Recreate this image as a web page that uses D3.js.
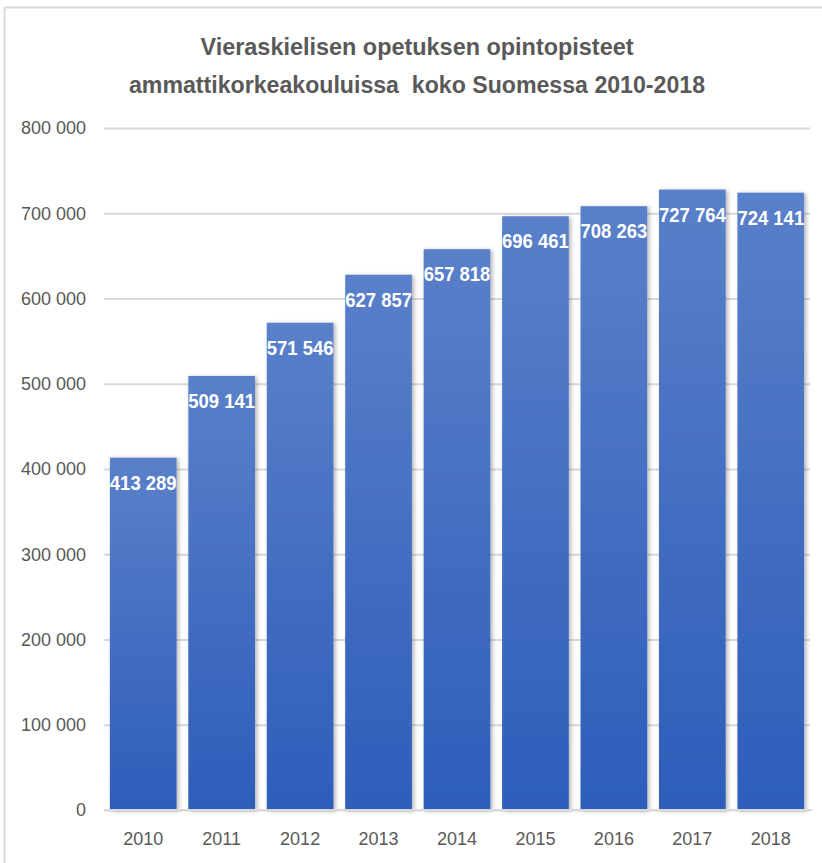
<!DOCTYPE html>
<html>
<head>
<meta charset="utf-8">
<script src="https://cdn.jsdelivr.net/npm/d3@7"></script>
<style>
body { margin: 0; background: #fff; }
svg { display: block; }
</style>
</head>
<body>
<div id="chart"></div>
<script>
// data
const years = ['2010', '2011', '2012', '2013', '2014', '2015', '2016', '2017', '2018']
const credits = [413289, 509141, 571546, 627857, 657818, 696461, 708263, 727764, 724141]
const yTicks = [0, 100000, 200000, 300000, 400000, 500000, 600000, 700000, 800000]
const titleLines = ['Vieraskielisen opetuksen opintopisteet', 'ammattikorkeakouluissa  koko Suomessa 2010-2018']

const width = 822, height = 863
const font = '"Liberation Sans", Arial, sans-serif'

const fmt = v => d3.format(',')(v).replace(/,/g, ' ')

let svg = d3.select('#chart').append('svg').attr('width', width).attr('height', height)

let defs = svg.append('defs')
let grad = defs.append('linearGradient').attr('id', 'barGrad')
    .attr('x1', 0).attr('y1', 0).attr('x2', 0).attr('y2', 1)
grad.append('stop').attr('offset', '0%').attr('stop-color', '#5a80c9')
grad.append('stop').attr('offset', '100%').attr('stop-color', '#2d5dba')

let shadow = defs.append('filter').attr('id', 'shadow')
    .attr('x', '-20%').attr('y', '-5%').attr('width', '140%').attr('height', '110%')
shadow.append('feDropShadow').attr('dx', 2).attr('dy', 1).attr('stdDeviation', 2)
    .attr('flood-color', '#000').attr('flood-opacity', 0.3)

// chart border (only top and left visible in the crop)
svg.append('path').attr('d', 'M4.5,' + height + 'V7.5H' + width)
    .attr('fill', 'none').attr('stroke', '#d9d9d9').attr('stroke-width', 2)

// title, squeezed to look like the narrow original font
const titleWidths = [433, 576]
svg.append('g').selectAll('text')
    .data(titleLines)
    .enter()
    .append('text')
    .attr('x', (d, i) => 417 - titleWidths[i] / 2)
    .attr('y', (d, i) => 55 + i * 38)
    .attr('textLength', (d, i) => titleWidths[i])
    .attr('lengthAdjust', 'spacingAndGlyphs')
    .style('font-family', font)
    .style('font-weight', 'bold')
    .style('font-size', '23px')
    .style('fill', '#595959')
    .style('white-space', 'pre')
    .text(d => d)

const x = d3.scaleBand().domain(years).range([104, 810]).paddingInner(0.15).paddingOuter(0.075)
const y = d3.scaleLinear().domain([0, 800000]).range([810, 128])

// gridlines + y labels
let yAxis = svg.append('g').attr('transform', 'translate(104,0)')
    .call(d3.axisLeft(y).tickValues(yTicks).tickFormat(fmt).tickSize(-706).tickPadding(18))
yAxis.select('.domain').remove()
yAxis.selectAll('line').attr('stroke', '#d9d9d9').attr('stroke-width', 2)
yAxis.selectAll('text')
    .style('font-family', font)
    .style('font-size', '18px')
    .style('fill', '#595959')

// bars
svg.append('g').selectAll('rect')
    .data(credits)
    .enter()
    .append('rect')
    .attr('x', (d, i) => x(years[i]))
    .attr('y', d => y(d))
    .attr('width', x.bandwidth())
    .attr('height', d => y(0) - y(d))
    .attr('fill', 'url(#barGrad)')
    .attr('filter', 'url(#shadow)')

// x axis
let xAxis = svg.append('g').attr('transform', 'translate(0,810)')
    .call(d3.axisBottom(x).tickSize(0).tickPadding(22))
xAxis.select('.domain').attr('stroke', '#d9d9d9').attr('stroke-width', 2)
    .attr('d', 'M104,0H812')
xAxis.selectAll('text')
    .style('font-family', font)
    .style('font-size', '18px')
    .style('fill', '#595959')

// value labels
svg.append('g').selectAll('text')
    .data(credits)
    .enter()
    .append('text')
    .attr('transform', (d, i) => 'translate(' + (x(years[i]) + x.bandwidth() / 2) + ',' + (y(d) + 32) + ') scale(0.88,1)')
    .attr('text-anchor', 'middle')
    .style('font-family', font)
    .style('font-weight', 'bold')
    .style('font-size', '21px')
    .style('fill', '#fff')
    .text(fmt)
</script>
</body>
</html>
